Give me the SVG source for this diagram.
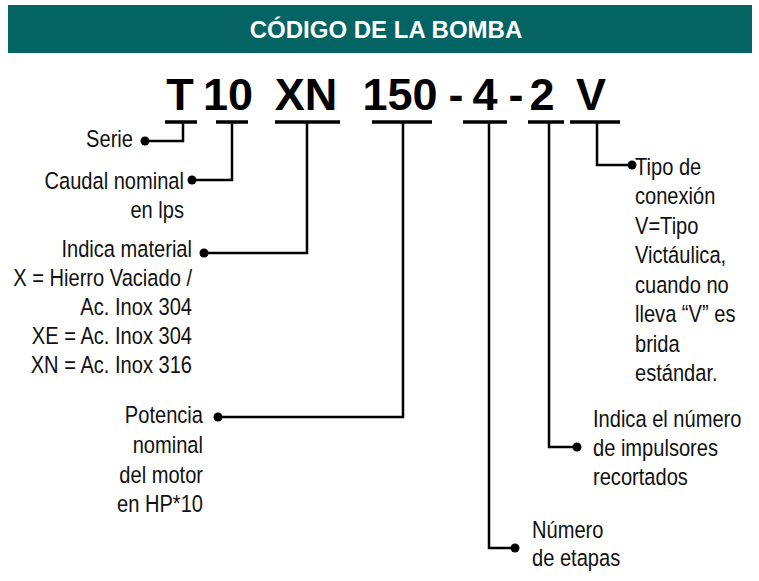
<svg xmlns="http://www.w3.org/2000/svg" width="759" height="581" viewBox="0 0 759 581">
<style>
.lbl{font-family:"Liberation Sans",Arial,sans-serif;font-size:24.5px;fill:#111}
.r{text-anchor:end}
.code{font-family:"Liberation Sans",Arial,sans-serif;font-weight:bold;font-size:45px;fill:#000;text-anchor:middle}
.bar{stroke:#000;stroke-width:3.5;fill:none}
.ln{stroke:#000;stroke-width:2.5;fill:none}
.dot{fill:#000}
</style>
<rect x="0" y="0" width="759" height="581" fill="#fff"/>
<g id="header">
<rect x="8" y="5" width="744" height="48" fill="#046363"/>
<text x="386" y="38" style="font-family:'Liberation Sans',Arial,sans-serif;font-weight:bold;font-size:24px;fill:#fff;text-anchor:middle">CÓDIGO DE LA BOMBA</text>
</g>
<g id="code">
<text class="code" x="180" y="110">T</text>
<text class="code" x="228" y="110">10</text>
<text class="code" x="306" y="110">XN</text>
<text class="code" x="400" y="110">150</text>
<text class="code" x="456" y="110">-</text>
<text class="code" x="485" y="110">4</text>
<text class="code" x="516" y="110">-</text>
<text class="code" x="542" y="110">2</text>
<text class="code" x="591" y="110">V</text>
</g>
<g id="connectors">
<line class="bar" x1="165" y1="122" x2="197" y2="122"/>
<line class="bar" x1="216" y1="122" x2="248" y2="122"/>
<line class="bar" x1="275" y1="122" x2="340" y2="122"/>
<line class="bar" x1="372" y1="122" x2="432" y2="122"/>
<line class="bar" x1="463" y1="122" x2="507" y2="122"/>
<line class="bar" x1="528" y1="122" x2="564" y2="122"/>
<line class="bar" x1="570" y1="122" x2="620" y2="122"/>
<polyline class="ln" points="183,122 183,141 145,141"/>
<polyline class="ln" points="232,122 232,180 192,180"/>
<polyline class="ln" points="307,122 307,253 204,253"/>
<polyline class="ln" points="403,122 403,417 218,417"/>
<polyline class="ln" points="489,122 489,548 515,548"/>
<polyline class="ln" points="549,122 549,447 577,447"/>
<polyline class="ln" points="597,122 597,165 632,165"/>
<circle class="dot" cx="145" cy="141" r="4.5"/>
<circle class="dot" cx="192" cy="180" r="4.5"/>
<circle class="dot" cx="204" cy="253" r="4.5"/>
<circle class="dot" cx="218" cy="417" r="4.5"/>
<circle class="dot" cx="515" cy="548" r="4.5"/>
<circle class="dot" cx="577" cy="447" r="4.5"/>
<circle class="dot" cx="632" cy="165" r="4.5"/>
</g>
<g id="serie"><text class="lbl r" transform="translate(133,147) scale(0.82,1)">Serie</text></g>
<g id="caudal">
<text class="lbl r" transform="translate(184,189) scale(0.82,1)">Caudal nominal</text>
<text class="lbl r" transform="translate(184,218) scale(0.82,1)">en lps</text>
</g>
<g id="material">
<text class="lbl r" transform="translate(192,257) scale(0.82,1)">Indica material</text>
<text class="lbl r" transform="translate(192,286) scale(0.82,1)">X = Hierro Vaciado /</text>
<text class="lbl r" transform="translate(192,315) scale(0.82,1)">Ac. Inox 304</text>
<text class="lbl r" transform="translate(192,344) scale(0.82,1)">XE = Ac. Inox 304</text>
<text class="lbl r" transform="translate(192,373) scale(0.82,1)">XN = Ac. Inox 316</text>
</g>
<g id="potencia">
<text class="lbl r" transform="translate(203,423) scale(0.82,1)">Potencia</text>
<text class="lbl r" transform="translate(203,453) scale(0.82,1)">nominal</text>
<text class="lbl r" transform="translate(203,483) scale(0.82,1)">del motor</text>
<text class="lbl r" transform="translate(203,512) scale(0.82,1)">en HP*10</text>
</g>
<g id="etapas">
<text class="lbl" transform="translate(532,538) scale(0.82,1)">Número</text>
<text class="lbl" transform="translate(532,566) scale(0.82,1)">de etapas</text>
</g>
<g id="impulsores">
<text class="lbl" transform="translate(593,427) scale(0.82,1)">Indica el número</text>
<text class="lbl" transform="translate(593,456) scale(0.82,1)">de impulsores</text>
<text class="lbl" transform="translate(593,485) scale(0.82,1)">recortados</text>
</g>
<g id="conexion">
<text class="lbl" transform="translate(635,175) scale(0.82,1)">Tipo de</text>
<text class="lbl" transform="translate(635,204) scale(0.82,1)">conexión</text>
<text class="lbl" transform="translate(635,234) scale(0.82,1)">V=Tipo</text>
<text class="lbl" transform="translate(635,263) scale(0.82,1)">Victáulica,</text>
<text class="lbl" transform="translate(635,293) scale(0.82,1)">cuando no</text>
<text class="lbl" transform="translate(635,322) scale(0.82,1)">lleva “V” es</text>
<text class="lbl" transform="translate(635,352) scale(0.82,1)">brida</text>
<text class="lbl" transform="translate(635,381) scale(0.82,1)">estándar.</text>
</g>
</svg>
